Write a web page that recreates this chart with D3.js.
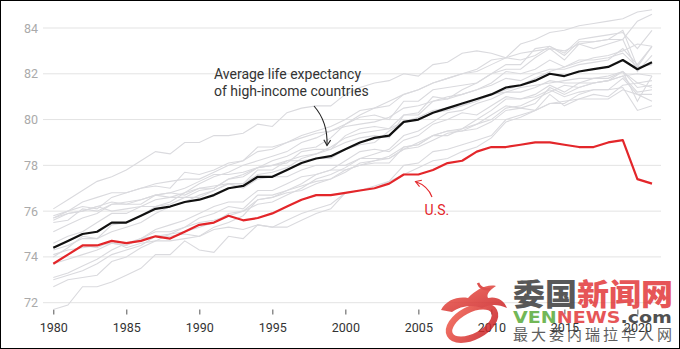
<!DOCTYPE html>
<html><head><meta charset="utf-8">
<script src="https://cdn.jsdelivr.net/npm/d3@7"></script>
<style>
html,body{margin:0;padding:0;background:#fff;}
svg{display:block;font-family:Roboto,"Noto Sans",sans-serif;}
</style></head>
<body><svg id="c" width="680" height="349"></svg>
<script>
const years = d3.range(1980, 2022);
const yTicks = [72, 74, 76, 78, 80, 82, 84];
const xTicks = [1980, 1985, 1990, 1995, 2000, 2005, 2010, 2015, 2020];

const average = [74.4,74.7,75.0,75.1,75.5,75.5,75.8,76.1,76.2,76.4,
  76.5,76.7,77.0,77.1,77.5,77.5,77.8,78.1,78.3,78.4,
  78.7,79.0,79.2,79.3,79.9,80.0,80.3,80.5,80.7,80.9,
  81.1,81.4,81.5,81.7,82.0,81.9,82.1,82.2,82.3,82.6,
  82.2,82.5];
const us = [73.7,74.1,74.5,74.5,74.7,74.6,74.7,74.9,74.8,75.1,
  75.4,75.5,75.8,75.6,75.7,75.9,76.2,76.5,76.7,76.7,
  76.8,76.9,77.0,77.2,77.6,77.6,77.8,78.1,78.2,78.6,
  78.8,78.8,78.9,79.0,79.0,78.9,78.8,78.8,79.0,79.1,
  77.4,77.2];

const japan = [76.1,76.5,76.9,77.3,77.5,77.8,78.2,78.6,78.5,79.0,79.0,79.3,79.3,79.4,79.8,79.7,80.3,80.5,80.6,80.6,81.1,81.4,81.6,81.7,82.0,81.9,82.4,82.5,82.9,83.0,82.9,82.7,83.3,83.5,83.8,83.9,84.1,84.2,84.3,84.4,84.7,84.8];
const switzerland = [75.7,76.0,76.2,76.1,76.6,76.8,77.0,77.2,77.3,77.4,77.4,77.7,78.0,78.2,78.6,78.7,79.0,79.3,79.5,79.7,80.0,80.4,80.5,80.6,81.1,81.3,81.6,81.8,82.0,82.1,82.4,82.7,82.6,82.8,83.2,82.9,83.5,83.6,83.7,83.8,83.1,83.9];
const australia = [74.6,74.9,75.1,75.5,75.9,75.9,76.2,76.5,76.6,76.8,77.2,77.5,77.7,78.0,78.2,78.4,78.6,79.0,79.2,79.5,79.8,80.2,80.5,80.8,81.1,81.3,81.6,81.8,82.0,82.2,82.6,82.7,82.9,83.0,83.1,83.0,83.3,83.4,83.5,83.5,84.3,84.6];
const sweden = [75.8,76.0,76.4,76.6,76.8,76.8,77.0,77.1,77.0,77.7,77.6,77.8,78.1,78.2,78.8,78.8,79.0,79.2,79.4,79.5,79.7,79.8,79.9,80.1,80.5,80.6,80.8,80.9,81.1,81.3,81.5,81.8,81.7,82.0,82.2,82.2,82.4,82.5,82.6,83.1,82.4,83.2];
const spain = [75.5,75.6,76.1,76.0,76.3,76.4,76.5,76.7,76.6,76.6,76.9,77.0,77.4,77.5,77.9,78.0,78.1,78.6,78.7,78.7,79.3,79.6,79.7,79.6,80.2,80.3,81.0,80.9,81.3,81.6,82.0,82.4,82.4,83.1,83.2,82.8,83.4,83.4,83.5,83.9,82.3,83.2];
const italy = [74.0,74.4,74.9,74.8,75.4,75.5,75.8,76.2,76.4,76.8,77.0,77.0,77.4,77.6,77.9,78.2,78.4,78.7,78.8,79.2,79.8,80.1,80.2,80.0,80.8,80.8,81.3,81.4,81.5,81.6,82.0,82.2,82.2,82.7,83.1,82.6,83.3,83.1,83.3,83.5,82.1,82.8];
const norway = [75.6,75.9,76.0,76.2,76.0,76.1,76.2,76.2,76.3,76.6,76.6,76.9,77.2,77.2,77.8,77.8,78.2,78.2,78.3,78.3,78.7,78.9,79.0,79.5,79.9,80.1,80.4,80.5,80.6,80.9,81.1,81.3,81.5,81.8,82.1,82.3,82.5,82.7,82.8,83.0,83.3,83.2];
const canada = [75.1,75.4,75.7,75.9,76.3,76.3,76.5,76.7,76.8,77.0,77.3,77.6,77.6,77.7,77.9,78.0,78.2,78.4,78.5,78.8,79.2,79.4,79.5,79.6,79.9,80.0,80.3,80.4,80.6,80.8,81.1,81.2,81.4,81.5,81.6,81.7,81.8,81.8,81.9,82.1,81.6,81.7];
const france = [74.3,74.5,74.8,74.8,75.1,75.3,75.5,75.9,76.2,76.4,76.7,76.9,77.2,77.2,77.6,77.7,77.9,78.3,78.5,78.7,79.0,79.2,79.3,79.2,80.2,80.2,80.8,81.0,81.1,81.3,81.6,82.1,82.0,82.2,82.6,82.3,82.6,82.6,82.7,82.9,82.3,82.4];
const netherlands = [75.7,75.9,76.0,76.2,76.4,76.3,76.3,76.7,76.8,76.7,77.0,77.1,77.2,77.0,77.4,77.5,77.5,77.8,78.0,78.0,78.0,78.3,78.5,78.7,79.3,79.5,79.9,80.3,80.4,80.7,80.9,81.2,81.2,81.4,81.7,81.6,81.6,81.8,81.8,82.1,81.4,81.5];
const denmark = [74.1,74.3,74.4,74.5,74.6,74.5,74.8,74.9,74.9,75.0,74.9,75.2,75.3,75.2,75.4,75.3,75.6,75.9,76.1,76.3,76.8,76.9,77.0,77.3,77.6,77.9,78.2,78.3,78.6,78.8,79.2,79.9,80.1,80.4,80.7,80.8,80.9,81.1,81.0,81.5,81.6,81.4];
const finland = [73.7,74.1,74.5,74.4,74.7,74.4,74.6,74.7,74.7,74.8,74.9,75.3,75.5,75.8,76.5,76.6,76.8,76.9,77.2,77.4,77.7,78.1,78.2,78.4,78.8,78.9,79.3,79.3,79.6,79.8,80.0,80.5,80.6,80.9,81.2,81.5,81.4,81.6,81.7,81.9,82.0,81.9];
const austria = [72.7,73.0,73.1,73.2,73.8,74.0,74.4,74.7,75.0,75.3,75.5,75.6,75.8,76.0,76.5,76.6,76.9,77.2,77.6,77.8,78.2,78.6,78.7,78.6,79.1,79.3,79.8,80.0,80.3,80.2,80.6,81.0,80.9,81.1,81.5,81.2,81.6,81.6,81.7,81.9,81.2,81.3];
const belgium = [73.1,73.3,73.6,73.9,74.3,74.6,74.8,75.2,75.4,75.6,75.9,76.2,76.4,76.4,76.9,76.9,77.2,77.5,77.6,77.8,77.8,78.0,78.1,78.1,78.8,78.9,79.3,79.5,79.5,79.8,80.2,80.6,80.5,80.7,81.4,81.1,81.4,81.6,81.7,82.1,80.8,81.9];
const germany = [73.0,73.2,73.4,73.7,74.1,74.3,74.5,74.9,75.0,75.1,75.3,75.5,75.9,76.0,76.3,76.4,76.7,77.0,77.4,77.6,77.9,78.3,78.3,78.3,78.7,78.8,79.1,79.4,79.5,79.6,79.9,80.4,80.5,80.4,81.1,80.6,80.9,80.9,80.9,81.3,81.1,80.8];
const uk = [73.7,73.9,74.1,74.3,74.6,74.5,74.8,75.1,75.1,75.3,75.7,75.9,76.2,76.1,76.7,76.7,76.9,77.1,77.3,77.4,77.8,78.0,78.2,78.3,78.7,79.0,79.3,79.5,79.6,80.0,80.4,80.9,80.9,81.0,81.3,81.0,81.2,81.3,81.3,81.4,80.4,80.6];
const portugal = [71.7,71.9,72.7,72.7,72.9,73.2,73.5,74.1,74.1,74.7,74.3,74.2,74.9,74.8,75.4,75.3,75.3,75.6,75.9,76.1,76.8,76.9,77.1,77.3,78.0,78.1,78.6,78.7,78.9,79.1,79.3,80.0,80.2,80.4,80.7,80.7,81.1,81.3,81.3,81.8,81.1,81.1];

const countries = [japan, switzerland, australia, sweden, spain, italy, norway, canada,
  france, netherlands, denmark, finland, austria, belgium, germany, uk, portugal];

const svg = d3.select("#c");
const x = d3.scaleLinear().domain([1980, 2021]).range([53.3, 652]);
const y = d3.scaleLinear().domain([72, 84]).range([302.7, 28]);

// gridlines
svg.append("g").selectAll("line").data(yTicks).join("line")
  .attr("x1", 43).attr("x2", 661)
  .attr("y1", d => y(d)).attr("y2", d => y(d))
  .attr("stroke", "#e3e3e3").attr("stroke-width", 1);

svg.append("g").selectAll("text").data(yTicks).join("text")
  .attr("x", 38).attr("y", d => y(d)).attr("dy", "0.36em")
  .attr("text-anchor", "end").attr("font-size", 12.5)
  .attr("fill", "#aaaaaa").text(d => d);

// x axis
const xAxis = d3.axisBottom(x).tickValues(xTicks).tickFormat(d3.format("d"))
  .tickSize(5).tickPadding(9);
const gx = svg.append("g").attr("transform", "translate(0,309.5)").call(xAxis);
gx.select(".domain").remove();
gx.selectAll(".tick line").attr("stroke", "#555");
gx.selectAll(".tick text").attr("fill", "#333").attr("font-size", 12.5)
  .attr("font-family", "Roboto, sans-serif");

const line = d3.line().x((d, i) => x(years[i])).y(d => y(d));

svg.append("g").selectAll("path").data(countries).join("path")
  .attr("d", line).attr("fill", "none")
  .attr("stroke", "#dadade").attr("stroke-width", 1.1);

svg.append("path").datum(average).attr("d", line).attr("fill", "none")
  .attr("stroke", "#111").attr("stroke-width", 2.2).attr("stroke-linejoin", "round");
svg.append("path").datum(us).attr("d", line).attr("fill", "none")
  .attr("stroke", "#e3262a").attr("stroke-width", 2.2).attr("stroke-linejoin", "round");

// annotations
const ann = svg.append("g").attr("font-size", 14).attr("fill", "#333");
ann.append("text").attr("x", 214).attr("y", 79).text("Average life expectancy");
ann.append("text").attr("x", 214).attr("y", 96).text("of high-income countries");

function arrow(p0, c, p1, color) {
  svg.append("path").attr("d", `M${p0[0]},${p0[1]}Q${c[0]},${c[1]} ${p1[0]},${p1[1]}`)
    .attr("fill", "none").attr("stroke", color).attr("stroke-width", 1.1);
  const ang = Math.atan2(p1[1] - c[1], p1[0] - c[0]);
  const L = 6.5, a = 0.55;
  const h1 = [p1[0] - L * Math.cos(ang - a), p1[1] - L * Math.sin(ang - a)];
  const h2 = [p1[0] - L * Math.cos(ang + a), p1[1] - L * Math.sin(ang + a)];
  svg.append("path").attr("d", `M${h1[0]},${h1[1]}L${p1[0]},${p1[1]}L${h2[0]},${h2[1]}`)
    .attr("fill", "none").attr("stroke", color).attr("stroke-width", 1.1);
}
arrow([314, 106], [328, 122], [327, 145.5], "#222");

svg.append("text").attr("x", 424.5).attr("y", 215).attr("font-size", 14)
  .attr("fill", "#e3262a").text("U.S.");
arrow([432, 197], [428, 186], [415.5, 181.5], "#e3262a");

// watermark
const wm = svg.append("g").attr("opacity", 0.85);
const grad = svg.append("defs").append("linearGradient").attr("id", "rg")
  .attr("x1", "0").attr("y1", "0").attr("x2", "1").attr("y2", "1");
grad.append("stop").attr("offset", "0").attr("stop-color", "#f05a4a");
grad.append("stop").attr("offset", "1").attr("stop-color", "#c81e24");
wm.append("ellipse").attr("cx", 472).attr("cy", 323).attr("rx", 25).attr("ry", 13.5)
  .attr("transform", "rotate(-28 472 323)")
  .attr("fill", "none").attr("stroke", "url(#rg)").attr("stroke-width", 6.5);
wm.append("path").attr("d", "M441,310 C446,300 458,296 468,298 C476,290 486,284 496,286 C490,290 486,294 488,298 C496,296 504,300 507,308 C498,304 490,304 482,308 C472,304 460,306 452,312 Z")
  .attr("fill", "url(#rg)");
wm.append("path").attr("d", "M478,283 C480,288 484,290 490,289")
  .attr("fill", "none").attr("stroke", "#d8322e").attr("stroke-width", 2.5);
const t1 = wm.append("text").attr("x", 513).attr("y", 305).attr("font-size", 30)
  .attr("font-weight", 900).attr("font-family", "'Noto Sans CJK SC', sans-serif")
  .attr("textLength", 160).attr("lengthAdjust", "spacingAndGlyphs");
t1.append("tspan").attr("fill", "#3c3c3c").text("委国");
t1.append("tspan").attr("fill", "#e2383a").text("新闻网");
const t2 = wm.append("text").attr("x", 513).attr("y", 323).attr("font-size", 15.5)
  .attr("font-weight", 900).attr("font-family", "'DejaVu Sans', sans-serif")
  .attr("textLength", 159).attr("lengthAdjust", "spacingAndGlyphs");
t2.append("tspan").attr("fill", "#5aab3a").text("VEN");
t2.append("tspan").attr("fill", "#e2383a").text("NEWS");
t2.append("tspan").attr("fill", "#333").text(".com");
wm.append("text").attr("x", 513).attr("y", 339.5).attr("font-size", 15)
  .attr("font-family", "'Noto Sans CJK SC', sans-serif").attr("fill", "#444")
  .attr("textLength", 159).attr("lengthAdjust", "spacing").text("最大委内瑞拉华人网");

// frame
svg.append("rect").attr("x", 0.5).attr("y", 0.5).attr("width", 679).attr("height", 348)
  .attr("fill", "none").attr("stroke", "#000").attr("stroke-width", 1);
</script></body></html>
